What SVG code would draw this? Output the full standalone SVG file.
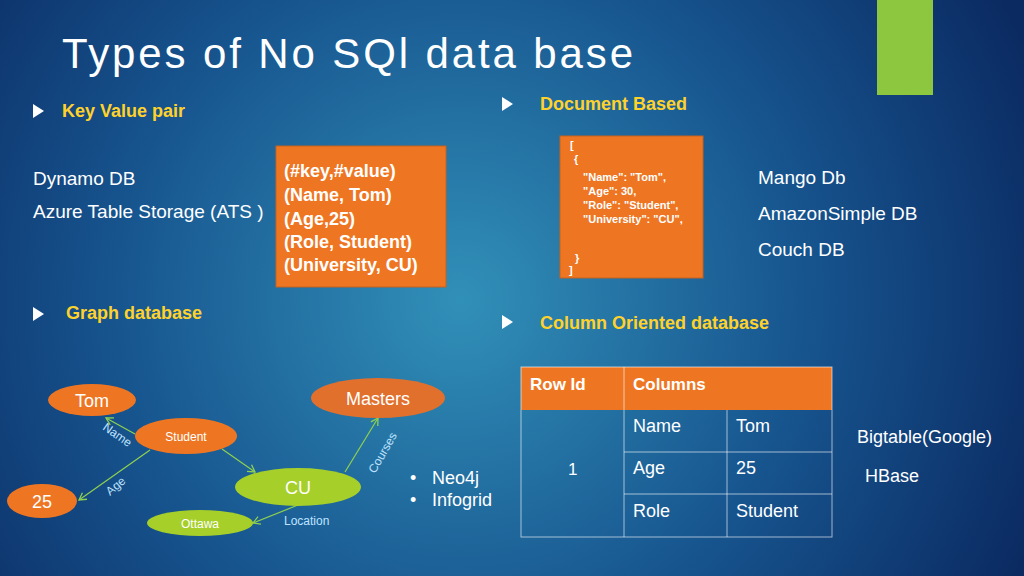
<svg xmlns="http://www.w3.org/2000/svg" width="1024" height="576" viewBox="0 0 1024 576">
<defs>
<radialGradient id="bg" cx="460" cy="300" r="620" gradientUnits="userSpaceOnUse">
<stop offset="0" stop-color="#3190b8"/><stop offset="0.55" stop-color="#17558f"/><stop offset="1" stop-color="#0b2a62"/>
</radialGradient>
<marker id="ar" markerWidth="10" markerHeight="10" refX="8" refY="5" orient="auto" markerUnits="userSpaceOnUse"><path d="M1,1 L8,5 L1,9" fill="none" stroke="#8fd14f" stroke-width="1.3"/></marker>
<style>
text{font-family:"Century Gothic","Liberation Sans","DejaVu Sans",sans-serif;fill:#fff}
.h{fill:#ffd22b;font-weight:bold;font-size:18px}
.t{font-size:19px}
.b{font-weight:bold}
.o{fill:#ee7623}
.g{fill:#a6cf2a}
.e{stroke:#8fd14f;stroke-width:1.2;fill:none;marker-end:url(#ar)}
.l{fill:#bfe3ff;font-size:12px}
.cell{fill:none;stroke:#ffffff;stroke-opacity:0.6;stroke-width:1}
</style>
</defs>
<rect width="1024" height="576" fill="url(#bg)"/>
<rect x="877" y="0" width="56" height="95" fill="#8dc63f"/>
<text x="62" y="68" font-size="42" fill="#e6eef7" textLength="571" lengthAdjust="spacing">Types of No SQl data base</text>
<path d="M33,104 l11,7 l-11,7z" fill="#fff"/>
<text x="62" y="117" class="h">Key Value pair</text>
<path d="M502,97 l11,7 l-11,7z" fill="#fff"/>
<text x="540" y="110" class="h" font-size="19">Document Based</text>
<path d="M33,307 l11,7 l-11,7z" fill="#fff"/>
<text x="66" y="319" class="h" font-size="17">Graph database</text>
<path d="M502,315 l11,7 l-11,7z" fill="#fff"/>
<text x="540" y="329" class="h" font-size="20">Column Oriented database</text>
<text x="33" y="185" class="t">Dynamo DB</text>
<text x="33" y="218" class="t">Azure Table Storage (ATS )</text>
<g id="kv">
<rect x="276" y="146" width="170" height="141" class="o" stroke="#c8601c"/>
<text x="284" y="177" class="b" font-size="18" fill="#ffe9c8">(#key,#value)</text>
<text x="284" y="201" class="b" font-size="18">(Name, Tom)</text>
<text x="284" y="225" class="b" font-size="18">(Age,25)</text>
<text x="284" y="248" class="b" font-size="18">(Role, Student)</text>
<text x="284" y="271" class="b" font-size="18">(University, CU)</text>
</g>
<g id="doc">
<rect x="560" y="136" width="143" height="142" class="o" stroke="#c8601c"/>
<text x="570" y="149" class="b" font-size="11">[</text>
<text x="574" y="163" class="b" font-size="11">{</text>
<text x="583" y="181" class="b" font-size="11">"Name": "Tom",</text>
<text x="583" y="195" class="b" font-size="11">"Age": 30,</text>
<text x="583" y="209" class="b" font-size="11">"Role": "Student",</text>
<text x="583" y="223" class="b" font-size="11">"University": "CU",</text>
<text x="575" y="262" class="b" font-size="11">}</text>
<text x="569" y="274" class="b" font-size="11">]</text>
</g>
<text x="758" y="184" class="t">Mango Db</text>
<text x="758" y="220" class="t">AmazonSimple DB</text>
<text x="758" y="256" class="t">Couch DB</text>
<g id="table">
<rect x="521" y="367" width="311" height="43" class="o"/>
<line x1="624" y1="367" x2="624" y2="537" class="cell"/>
<line x1="727" y1="410" x2="727" y2="537" class="cell"/>
<line x1="624" y1="452" x2="832" y2="452" class="cell"/>
<line x1="624" y1="494" x2="832" y2="494" class="cell"/>
<rect x="521" y="367" width="311" height="170" class="cell"/>
<text x="530" y="390" class="b" font-size="17">Row Id</text>
<text x="633" y="390" class="b" font-size="17">Columns</text>
<text x="568" y="475" font-size="17">1</text>
<text x="633" y="432" font-size="18">Name</text><text x="736" y="432" font-size="18">Tom</text>
<text x="633" y="474" font-size="18">Age</text><text x="736" y="474" font-size="18">25</text>
<text x="633" y="517" font-size="18">Role</text><text x="736" y="517" font-size="18">Student</text>
</g>
<text x="857" y="443" font-size="18">Bigtable(Google)</text>
<text x="865" y="482" font-size="18">HBase</text>
<g id="connectors">
<line x1="135" y1="434" x2="106" y2="418" class="e"/>
<line x1="150" y1="450" x2="79" y2="500" class="e"/>
<line x1="222" y1="449" x2="255" y2="472" class="e"/>
<line x1="345" y1="472" x2="378" y2="418" class="e"/>
<line x1="298" y1="505" x2="253" y2="523" class="e"/>
<text class="l" transform="translate(102,429) rotate(35)">Name</text>
<text class="l" transform="translate(110,496) rotate(-40)">Age</text>
<text class="l" transform="translate(375,474) rotate(-60)">Courses</text>
<text class="l" x="284" y="525">Location</text>
</g>
<g id="tom"><ellipse cx="92" cy="400" rx="44" ry="16" class="o"/><text x="92" y="407" text-anchor="middle" font-size="18">Tom</text></g>
<g id="student"><ellipse cx="186" cy="436" rx="51" ry="18" class="o"/><text x="186" y="441" text-anchor="middle" font-size="12">Student</text></g>
<g id="masters"><ellipse cx="378" cy="398" rx="67" ry="20" fill="#e2702d"/><text x="378" y="405" text-anchor="middle" font-size="18">Masters</text></g>
<g id="cu"><ellipse cx="298" cy="487" rx="63" ry="19" class="g"/><text x="298" y="494" text-anchor="middle" font-size="18">CU</text></g>
<g id="n25"><ellipse cx="42" cy="501" rx="35" ry="17" class="o"/><text x="42" y="508" text-anchor="middle" font-size="18">25</text></g>
<g id="ottawa"><ellipse cx="200" cy="523" rx="53" ry="13" class="g"/><text x="200" y="528" text-anchor="middle" font-size="12">Ottawa</text></g>
<text x="410" y="484" font-size="18">•</text><text x="432" y="484" font-size="18">Neo4j</text>
<text x="410" y="506" font-size="18">•</text><text x="432" y="506" font-size="18">Infogrid</text>
</svg>
